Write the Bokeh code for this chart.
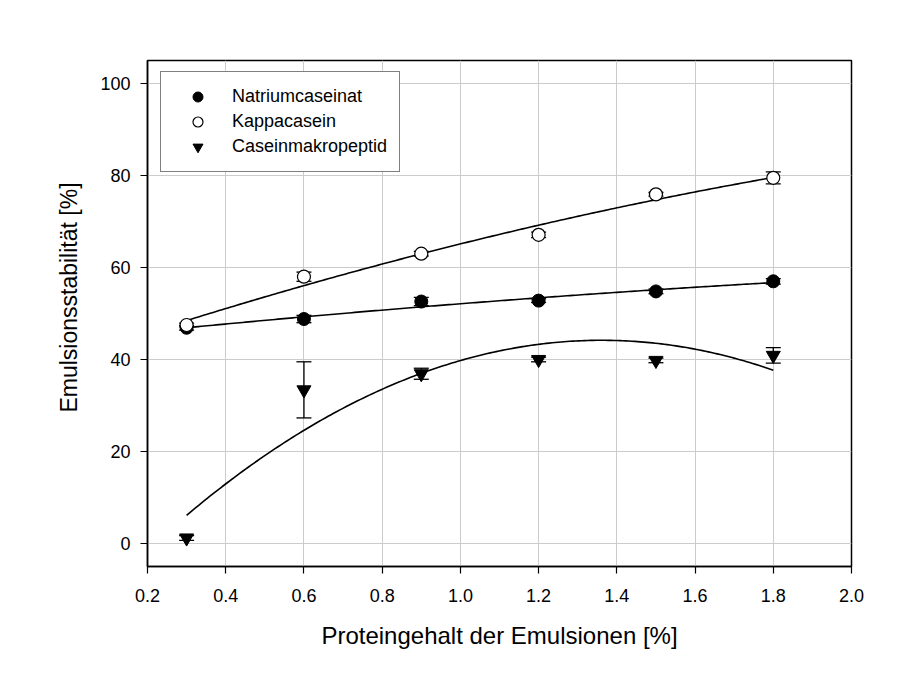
import numpy as np
from bokeh.plotting import figure
from bokeh.models import (ColumnDataSource, Whisker, TeeHead, Legend, LegendItem,
                          FixedTicker, Range1d, PrintfTickFormatter)
from bokeh.embed import file_html
from bokeh.resources import INLINE

# ---- data ----
protein = [0.3, 0.6, 0.9, 1.2, 1.5, 1.8]
natrium = [46.9, 48.8, 52.6, 52.8, 54.8, 57.0]
natrium_err = [0.5, 0.8, 0.9, 0.4, 0.5, 0.6]
kappa = [47.5, 58.0, 63.0, 67.1, 75.9, 79.5]
kappa_err = [0.4, 1.0, 0.5, 0.6, 0.4, 1.3]
cmp_vals = [1.2, 33.4, 36.9, 40.0, 39.8, 40.9]
cmp_err = [0.5, 6.1, 1.2, 0.5, 0.5, 1.7]
series_names = ["Natriumcaseinat", "Kappacasein", "Caseinmakropeptid"]
x_ticks = [0.2, 0.4, 0.6, 0.8, 1.0, 1.2, 1.4, 1.6, 1.8, 2.0]
y_ticks = [0, 20, 40, 60, 80, 100]
x_label = "Proteingehalt der Emulsionen [%]"
y_label = "Emulsionsstabilität [%]"

FONT = "Liberation Sans"

p = figure(width=900, height=661, output_backend="svg", toolbar_location=None,
           x_range=Range1d(0.2, 2.0), y_range=Range1d(-5, 105))
p.min_border_left = 147
p.min_border_right = 49
p.min_border_top = 60
p.min_border_bottom = 95
p.background_fill_color = "white"
p.border_fill_color = "white"
p.outline_line_color = "black"
p.outline_line_width = 1.5
p.outline_line_alpha = 1.0

# axes
for ax in (p.xaxis[0], p.yaxis[0]):
    ax.axis_line_color = "black"
    ax.axis_line_width = 1.5
    ax.major_tick_in = 0
    ax.major_tick_out = 7
    ax.major_tick_line_width = 1.2
    ax.minor_tick_line_color = None
    ax.major_label_text_font = FONT
    ax.major_label_text_font_size = "18px"
    ax.major_label_text_color = "black"
    ax.axis_label_text_font = FONT
    ax.axis_label_text_font_style = "normal"
    ax.axis_label_text_color = "black"

p.xaxis.axis_label_text_font_size = "24px"
p.yaxis.axis_label_text_font_size = "23px"
p.xaxis.ticker = FixedTicker(ticks=x_ticks)
p.yaxis.ticker = FixedTicker(ticks=y_ticks)
p.xaxis.formatter = PrintfTickFormatter(format="%.1f")
p.xaxis.axis_label = x_label
# leading no-break spaces shift the title slightly upward, as in the original
p.yaxis.axis_label = "\u00a0" * 5 + y_label
p.xaxis.major_label_standoff = 15
p.yaxis.major_label_standoff = 10
p.xaxis.axis_label_standoff = 17
p.yaxis.axis_label_standoff = 15

p.xgrid.ticker = FixedTicker(ticks=x_ticks)
p.ygrid.ticker = FixedTicker(ticks=y_ticks)
p.grid.grid_line_color = "#cccccc"
p.grid.grid_line_width = 1

# fitted curves (least-squares 2nd order polynomial of each series)
xs_fit = np.linspace(min(protein), max(protein), 200)
for vals in (natrium, kappa, cmp_vals):
    coef = np.polyfit(protein, vals, 2)
    p.line(xs_fit, np.polyval(coef, xs_fit), line_color="black", line_width=1.6)

# error bars
for vals, errs in ((natrium, natrium_err), (kappa, kappa_err), (cmp_vals, cmp_err)):
    src = ColumnDataSource(dict(x=protein,
                                upper=[v + e for v, e in zip(vals, errs)],
                                lower=[v - e for v, e in zip(vals, errs)]))
    w = Whisker(source=src, base="x", upper="upper", lower="lower",
                line_color="black", line_width=1.3, level="underlay",
                upper_head=TeeHead(size=15, line_color="black", line_width=1.3),
                lower_head=TeeHead(size=15, line_color="black", line_width=1.3))
    p.add_layout(w)

# markers
r_nat = p.scatter(protein, natrium, marker="circle", size=13,
                  fill_color="black", line_color="black", line_width=1)
r_kap = p.scatter(protein, kappa, marker="circle", size=13,
                  fill_color="white", line_color="black", line_width=1.2)
r_cmp = p.scatter(protein, cmp_vals, marker="inverted_triangle", size=14,
                  fill_color="black", line_color="black", line_width=1)

legend = Legend(items=[LegendItem(label=series_names[0], renderers=[r_nat]),
                       LegendItem(label=series_names[1], renderers=[r_kap]),
                       LegendItem(label=series_names[2], renderers=[r_cmp])],
                location=(13, 394), orientation="vertical",
                glyph_width=49, glyph_height=25, label_height=20,
                spacing=0, padding=12, label_standoff=10, margin=0,
                border_line_color="black", border_line_width=1.2,
                background_fill_color="white", background_fill_alpha=1.0,
                label_text_font=FONT, label_text_font_size="18px",
                label_text_color="black")
p.add_layout(legend, "center")

open("out.html", "w").write(file_html(p, INLINE))
